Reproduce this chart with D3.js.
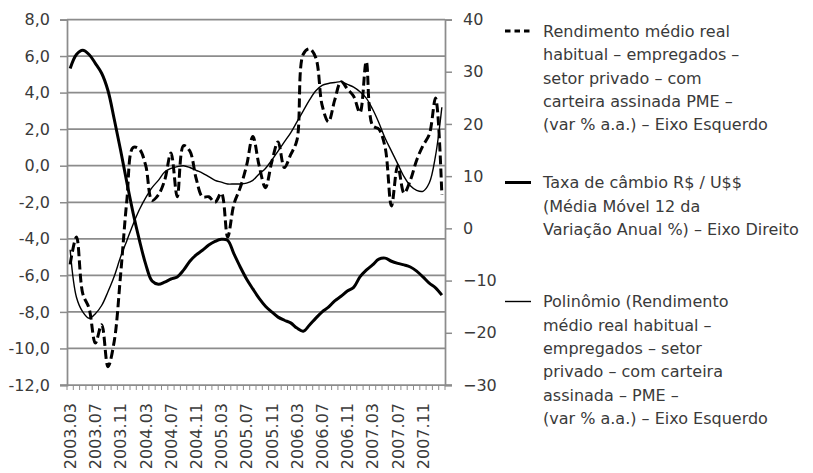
<!DOCTYPE html>
<html>
<head>
<meta charset="utf-8">
<script src="https://cdn.jsdelivr.net/npm/d3@7"></script>
<style>
  body { margin: 0; background: #fff; }
  text { font-family: "DejaVu Sans", sans-serif; fill: #3a3a3a; font-size: 16px; }
</style>
</head>
<body>
<svg id="chart" width="813" height="473"></svg>
<script>
const months = [
  "2003.03","2003.04","2003.05","2003.06","2003.07","2003.08","2003.09","2003.10","2003.11","2003.12",
  "2004.01","2004.02","2004.03","2004.04","2004.05","2004.06","2004.07","2004.08","2004.09","2004.10",
  "2004.11","2004.12","2005.01","2005.02","2005.03","2005.04","2005.05","2005.06","2005.07","2005.08",
  "2005.09","2005.10","2005.11","2005.12","2006.01","2006.02","2006.03","2006.04","2006.05","2006.06",
  "2006.07","2006.08","2006.09","2006.10","2006.11","2006.12","2007.01","2007.02","2007.03","2007.04",
  "2007.05","2007.06","2007.07","2007.08","2007.09","2007.10","2007.11","2007.12","2008.01","2008.02"
];

// Rendimento médio real (var % a.a.) - eixo esquerdo
const rendimento = [
  -5.4, -3.9, -7.0, -7.8, -9.7, -8.7, -11.0, -9.6, -6.0, -1.9,
  1.0, 0.9, 0.0, -1.9, -1.6, -0.8, 0.7, -1.7, 1.1, 0.8,
  -0.7, -1.7, -1.7, -2.0, -1.5, -3.9, -2.1, -1.2, 0.0, 1.6,
  0.0, -1.2, 0.2, 1.3, -0.1, 0.6, 1.4, 6.1, 6.4, 5.9,
  3.3, 2.4, 3.6, 4.6, 4.2, 3.8, 2.9, 5.7, 2.2, 2.0,
  1.0, -2.2, 0.0, -1.5, -0.8, 0.3, 1.1, 1.7, 3.7, -1.6
];

// Taxa de câmbio R$/U$$ (média móvel 12, var. anual %) - eixo direito
const cambio = [
  30.6, 33.3, 34.1, 33.3, 31.6, 29.7, 26.4, 20.9, 15.0, 8.8,
  2.9, -2.3, -6.9, -10.1, -10.7, -10.3, -9.7, -9.3, -8.0, -6.3,
  -5.1, -4.2, -3.2, -2.5, -2.1, -2.3, -4.9, -7.4, -9.7, -11.6,
  -13.4, -14.9, -16.0, -17.0, -17.6, -18.1, -19.1, -19.7, -18.5, -17.2,
  -16.0, -15.1, -13.9, -13.0, -12.0, -11.3, -9.3, -8.0, -7.0, -5.9,
  -5.7, -6.3, -6.7, -7.0, -7.4, -8.2, -9.3, -10.5, -11.4, -12.8
];

// Polinômio (tendência do rendimento) - eixo esquerdo
const polinomio = [
  -4.6, -7.2, -8.0, -8.35, -8.1, -7.65, -6.9, -6.05, -5.0, -4.1,
  -3.2, -2.4, -1.75, -1.2, -0.8, -0.35, -0.15, -0.05, 0.0, -0.1,
  -0.25, -0.4, -0.6, -0.8, -0.9, -1.0, -1.0, -1.0, -0.95, -0.8,
  -0.45, -0.15, 0.3, 0.8, 1.3, 1.8, 2.4, 3.0, 3.6, 4.1,
  4.4, 4.5, 4.55, 4.6, 4.45, 4.3, 4.05, 3.7, 3.1, 2.35,
  1.5, 0.8, 0.1, -0.6, -1.1, -1.35, -1.4, -0.95, 0.55, 3.2
];

const leftTicks = [-12, -10, -8, -6, -4, -2, 0, 2, 4, 6, 8];
const rightTicks = [-30, -20, -10, 0, 10, 20, 30, 40];
const shownLabels = months.filter((m, i) => i % 4 === 0 && i < 57);

const legendRendimento = [
  "Rendimento médio real",
  "habitual – empregados –",
  "setor privado – com",
  "carteira assinada PME –",
  "(var % a.a.) – Eixo Esquerdo"
];
const legendCambio = [
  "Taxa de câmbio R$ / U$$",
  "(Média Móvel 12 da",
  "Variação Anual %) – Eixo Direito"
];
const legendPolinomio = [
  "Polinômio (Rendimento",
  "médio real habitual –",
  "empregados – setor",
  "privado – com carteira",
  "assinada – PME –",
  "(var % a.a.) – Eixo Esquerdo"
];

const svg = d3.select("#chart");
const plot = { left: 67, right: 445, top: 19.5, bottom: 385 };
const gridColor = "#8c8c8c";
const fontSize = "16px";

const x = d3.scaleBand().domain(months).range([plot.left, plot.right]);
const yLeft = d3.scaleLinear().domain([-12, 8]).range([plot.bottom, plot.top]);
const yRight = d3.scaleLinear().domain([-30, 40]).range([plot.bottom, plot.top]);
const cx = (m) => x(m) + x.bandwidth() / 2;
const fmtLeft = (v) => d3.format(".1f")(v).replace(".", ",").replace("−", "-");

// gridlines
svg.append("g")
  .selectAll("line")
  .data(leftTicks.filter((v) => v > -12))
  .enter()
  .append("line")
  .attr("x1", plot.left)
  .attr("x2", plot.right)
  .attr("y1", (v) => yLeft(v))
  .attr("y2", (v) => yLeft(v))
  .attr("stroke", gridColor)
  .attr("stroke-width", 1.75);

// left axis
const leftAxis = svg.append("g")
  .attr("transform", `translate(${plot.left},0)`)
  .call(d3.axisLeft(yLeft).tickValues(leftTicks).tickSize(7).tickPadding(10).tickFormat(fmtLeft));

// right axis
const rightAxis = svg.append("g")
  .attr("transform", `translate(${plot.right},0)`)
  .call(d3.axisRight(yRight).tickValues(rightTicks).tickSize(7).tickPadding(11).tickFormat(d3.format("d")));

[leftAxis, rightAxis].forEach((g) => {
  g.select(".domain").attr("stroke", gridColor).attr("stroke-width", 1.75);
  g.selectAll(".tick line").attr("stroke", gridColor).attr("stroke-width", 1.5);
  g.selectAll(".tick text").attr("fill", "#3a3a3a").style("font-size", fontSize)
    .style("font-family", "\"DejaVu Sans\", sans-serif");
});

// bottom axis: line, monthly ticks, rotated labels
const bottom = svg.append("g");
bottom.append("line")
  .attr("x1", plot.left - 7).attr("x2", plot.right + 7)
  .attr("y1", plot.bottom).attr("y2", plot.bottom)
  .attr("stroke", gridColor).attr("stroke-width", 1.75);

bottom.selectAll(".mtick")
  .data(months.concat(["end"]))
  .enter()
  .append("line")
  .classed("mtick", true)
  .attr("x1", (m) => m === "end" ? plot.right : x(m))
  .attr("x2", (m) => m === "end" ? plot.right : x(m))
  .attr("y1", plot.bottom)
  .attr("y2", plot.bottom + 5)
  .attr("stroke", gridColor)
  .attr("stroke-width", 1);

bottom.selectAll(".mlabel")
  .data(shownLabels)
  .enter()
  .append("text")
  .classed("mlabel", true)
  .attr("transform", (m) => `translate(${cx(m)},${plot.bottom + 18}) rotate(-90)`)
  .attr("text-anchor", "end")
  .attr("dy", "0.36em")
  .text((m) => m);

// series
const lineLeft = d3.line()
  .x((d, i) => cx(months[i]))
  .y((d) => yLeft(d))
  .curve(d3.curveCatmullRom);

const lineRight = d3.line()
  .x((d, i) => cx(months[i]))
  .y((d) => yRight(d))
  .curve(d3.curveCatmullRom);

svg.append("path")
  .datum(polinomio)
  .attr("d", lineLeft)
  .attr("fill", "none")
  .attr("stroke", "#000")
  .attr("stroke-width", 1.4);

svg.append("path")
  .datum(cambio)
  .attr("d", lineRight)
  .attr("fill", "none")
  .attr("stroke", "#000")
  .attr("stroke-width", 3);

svg.append("path")
  .datum(rendimento)
  .attr("d", lineLeft)
  .attr("fill", "none")
  .attr("stroke", "#000")
  .attr("stroke-width", 3)
  .attr("stroke-dasharray", "9,4");

// legend
const legendItems = [
  { lines: legendRendimento, y: 31, width: 3, dash: "5.5,4" },
  { lines: legendCambio, y: 182.5, width: 3, dash: null },
  { lines: legendPolinomio, y: 301.5, width: 1.4, dash: null }
];
const lineHeight = 23.4;

const legend = svg.append("g");
legendItems.forEach((item) => {
  const g = legend.append("g");
  g.append("line")
    .attr("x1", 505).attr("x2", 531)
    .attr("y1", item.y).attr("y2", item.y)
    .attr("stroke", "#000")
    .attr("stroke-width", item.width)
    .attr("stroke-dasharray", item.dash);
  g.selectAll("text")
    .data(item.lines)
    .enter()
    .append("text")
    .attr("x", 543)
    .attr("y", (d, i) => item.y + i * lineHeight)
    .attr("dy", "0.36em")
    .text((d) => d);
});
</script>
</body>
</html>
